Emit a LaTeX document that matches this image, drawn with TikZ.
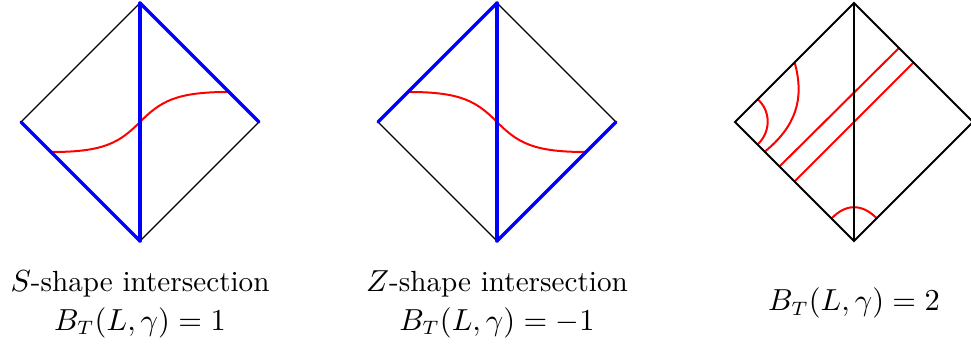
\documentclass[tikz,border=0pt]{standalone}
\usepackage{amsmath}
\usepackage{amssymb}
\usetikzlibrary{positioning, calc}

\begin{document}
\begin{tikzpicture}[
    x=0.36pt, y=-0.36pt,
    edge/.style={black, line width=0.45pt},
    edgethick/.style={black, line width=0.72pt},
    blueedge/.style={blue, line width=1.25pt, line cap=round},
    curve/.style={red, line width=0.72pt},
    caption/.style={align=center, inner sep=0pt, font=\fontsize{10.5}{14}\selectfont},
]
\useasboundingbox (0,0) rectangle (971,347);

% S-shape
\coordinate (sl) at (21,122);
\coordinate (st) at (140,3);
\coordinate (sr) at (259,122);
\coordinate (sb) at (140,241);
\coordinate (sa) at (52,152);
\coordinate (sc) at (228,92);
\coordinate (sm) at (140,122);
\draw[edge] (sl) -- (st);
\draw[edge] (sr) -- (sb);
\draw[curve] (sa) .. controls (105,152) and (120,142) .. (sm) .. controls (160,102) and (175,92) .. (sc);
\draw[blueedge] (sl) -- (sb);
\draw[blueedge] (st) -- (sr);
\draw[blueedge] (st) -- (sb);
\node[caption] (slabel) at (140,304) {$S$-shape intersection\\ $B_T(L,\gamma)=1$};

% Z-shape
\coordinate (zl) at (378,122);
\coordinate (zt) at (497,3);
\coordinate (zr) at (616,122);
\coordinate (zb) at (497,241);
\coordinate (za) at (409,92);
\coordinate (zc) at (585,152);
\coordinate (zm) at (497,122);
\draw[edge] (zl) -- (zb);
\draw[edge] (zt) -- (zr);
\draw[curve] (za) .. controls (462,92) and (477,102) .. (zm) .. controls (517,142) and (532,152) .. (zc);
\draw[blueedge] (zl) -- (zt);
\draw[blueedge] (zr) -- (zb);
\draw[blueedge] (zt) -- (zb);
\node[caption] (zlabel) at (497,304) {$Z$-shape intersection\\ $B_T(L,\gamma)=-1$};

% arcs and bands
\coordinate (bl) at (735,122);
\coordinate (bt) at (854,3);
\coordinate (br) at (973,122);
\coordinate (bb) at (854,241);
\coordinate (aa) at (757.7,99.3);
\coordinate (ab) at (757.7,144.3);
\coordinate (ac) at (794.7,62.7);
\coordinate (ad) at (764.7,151.7);
\coordinate (ae) at (780,166);
\coordinate (af) at (898.7,48.3);
\coordinate (ag) at (794.7,181.3);
\coordinate (ah) at (913.3,62.7);
\coordinate (ai) at (831.7,218.3);
\coordinate (aj) at (876.7,218.3);
\draw[curve] (aa) .. controls (771,111) and (771,132) .. (ab);
\draw[curve] (ac) .. controls (805,100) and (795,127) .. (ad);
\draw[curve] (ae) -- (af);
\draw[curve] (ag) -- (ah);
\draw[curve] (ai) .. controls (846,203.5) and (862,203.5) .. (aj);
\draw[edgethick] (bl) -- (bt) -- (br) -- (bb) -- cycle;
\draw[edgethick] (bt) -- (bb);
\node[caption] (blabel) at (854,303) {$B_T(L,\gamma)=2$};
\end{tikzpicture}
\end{document}
